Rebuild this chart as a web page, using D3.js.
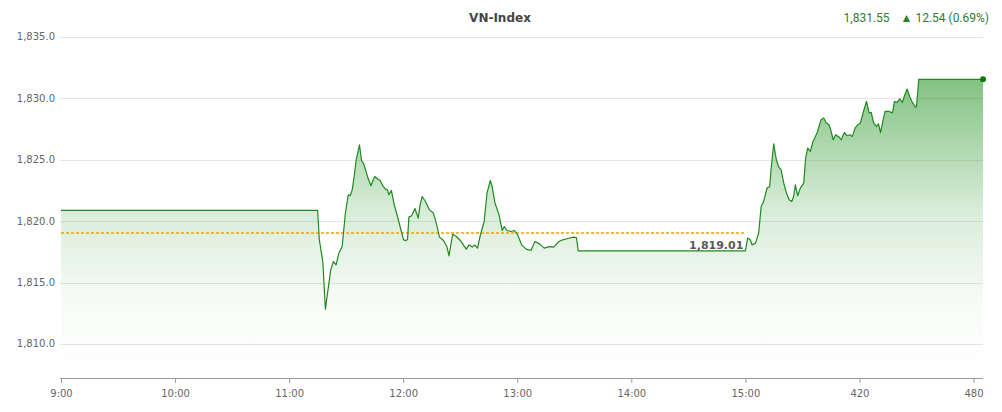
<!DOCTYPE html>
<html>
<head>
<meta charset="utf-8">
<script src="https://cdn.jsdelivr.net/npm/d3@7/dist/d3.min.js"></script>
<style>
  body { margin: 0; background: #fff; }
  svg { display: block; }
</style>
</head>
<body>
<svg id="chart"></svg>
<script>
// minutes since 9:00, and index value
const minutes = [0, 135, 135.9, 137.7, 139.1, 140.2, 141.9, 143.3, 144.7, 146.2, 147.9, 149.6, 151.1, 152.1, 153.2, 154.2, 155.3, 157, 158.1, 159.1,
  160.2, 161.2, 163, 164.1, 165.1, 166.5, 167.9, 169.3, 170.7, 171.7, 172.5, 173.8, 175.3, 177, 178.8, 180.2, 181.6, 182.3, 183, 184.4,
  186.2, 187.9, 188.9, 190, 191.7, 193.8, 195.9, 197.4, 199.1, 201.2, 203, 204.1, 206, 208, 210.2, 213.2, 214.6, 216.3, 217.7, 219.1,
  220.5, 222.6, 224.1, 225.8, 226.8, 228.3, 230.4, 232.1, 233.2, 234.6, 236.7, 238.4, 240.2, 242.3, 244.7, 247.2, 249.3, 251.7, 254.2, 256.7,
  259.1, 261.9, 264, 266.5, 269.6, 271.1, 272.1, 360, 361.2, 362.6, 363.5, 365.3, 367, 368.3, 369.6, 371.4, 372.8, 373.5, 374.9, 376.3,
  377.4, 378.8, 380.2, 381.6, 383, 384.4, 385.4, 386.3, 387.5, 388.9, 390.7, 391.7, 392.8, 394.2, 395.6, 397.7, 399.8, 401.2, 402.6, 404,
  405.1, 406.2, 407.5, 409.3, 410.4, 412.1, 413.5, 414.9, 416.3, 417.7, 419.1, 420.5, 421.9, 423.7, 425.1, 426.2, 427.5, 428.9, 430, 431.1,
  432.5, 433.5, 435.6, 437.4, 438.4, 439.8, 441.2, 442.6, 443.7, 445.1, 446.5, 447.9, 449.3, 450, 451.2, 485];
const values = [1820.87, 1820.87, 1818.48, 1816.71, 1812.83, 1814.14, 1816.03, 1816.71, 1816.44, 1817.40, 1817.93, 1820.66, 1822.15, 1822.07, 1822.55, 1823.64, 1825.00, 1826.22, 1824.94, 1824.73,
  1824.19, 1823.64, 1822.88, 1823.31, 1823.64, 1823.43, 1823.31, 1822.88, 1822.61, 1822.55, 1822.15, 1822.50, 1821.33, 1820.38, 1819.30, 1818.48, 1818.42, 1818.54, 1820.33, 1820.44,
  1821.03, 1820.25, 1821.33, 1822.01, 1821.60, 1820.92, 1820.66, 1819.84, 1818.70, 1818.42, 1817.93, 1817.18, 1818.93, 1818.75, 1818.40, 1817.72, 1818.07, 1817.89, 1818.05, 1817.80,
  1818.81, 1819.97, 1822.29, 1823.31, 1822.82, 1821.47, 1820.52, 1819.24, 1819.56, 1819.24, 1819.16, 1819.24, 1818.89, 1818.07, 1817.72, 1817.61, 1818.34, 1818.15, 1817.80, 1817.93,
  1817.89, 1818.34, 1818.48, 1818.59, 1818.70, 1818.67, 1817.58, 1817.58, 1818.62, 1818.48, 1818.07, 1818.21, 1819.03, 1821.19, 1821.60, 1822.69, 1822.82, 1824.19, 1826.30, 1825.00,
  1824.45, 1824.19, 1823.10, 1822.29, 1821.74, 1821.60, 1822.01, 1822.96, 1822.07, 1822.69, 1823.10, 1825.14, 1825.95, 1825.68, 1826.49, 1827.18, 1828.26, 1828.40, 1827.99, 1827.85,
  1827.31, 1826.63, 1827.04, 1826.85, 1826.63, 1827.22, 1826.96, 1827.04, 1826.90, 1827.58, 1827.85, 1827.99, 1828.81, 1829.75, 1828.81, 1828.86, 1827.99, 1827.71, 1827.93, 1827.22,
  1828.26, 1828.94, 1828.94, 1828.81, 1829.75, 1829.67, 1829.95, 1829.67, 1830.22, 1830.76, 1830.11, 1829.67, 1829.30, 1829.30, 1831.55, 1831.55];

const refValue = 1819.01;
const refEnd = 360;
const xTicks = [0, 60, 120, 180, 240, 300, 360, 420, 480];
const xTickLabels = ["9:00", "10:00", "11:00", "12:00", "13:00", "14:00", "15:00", "420", "480"];
const yTicks = [1810, 1815, 1820, 1825, 1830, 1835];
const title = "VN-Index";
const lastText = "1,831.55";
const changeText = "\u25B2 12.54 (0.69%)";

const W = 1002, H = 412;
const data = minutes.map((m, i) => ({ t: m, v: values[i] }));

const x = d3.scaleLinear().domain([0, 485]).range([61, 983]);
const y = d3.scaleLinear().domain([1807.2, 1836.4]).range([378.3, 19.8]);

const svg = d3.select("#chart").attr("width", W).attr("height", H);

const defs = svg.append("defs");
const grad = defs.append("linearGradient")
    .attr("id", "fillGrad")
    .attr("gradientUnits", "userSpaceOnUse")
    .attr("x1", 0).attr("x2", 0)
    .attr("y1", y(d3.max(values))).attr("y2", y(1807.2));
grad.append("stop").attr("offset", 0).attr("stop-color", "#108a10").attr("stop-opacity", 0.52);
grad.append("stop").attr("offset", 0.44).attr("stop-color", "#108a10").attr("stop-opacity", 0.16);
grad.append("stop").attr("offset", 0.75).attr("stop-color", "#108a10").attr("stop-opacity", 0.03);
grad.append("stop").attr("offset", 1).attr("stop-color", "#108a10").attr("stop-opacity", 0);

// grid
svg.append("g").selectAll("line")
    .data(yTicks)
    .enter()
    .append("line")
    .attr("x1", 60).attr("x2", 983)
    .attr("y1", d => Math.round(y(d)) + 0.5)
    .attr("y2", d => Math.round(y(d)) + 0.5)
    .attr("stroke", "#e6e6e6")
    .attr("stroke-width", 1);

// y labels
svg.append("g").selectAll("text")
    .data(yTicks)
    .enter()
    .append("text")
    .text(d => d3.format(",.1f")(d))
    .attr("x", 55)
    .attr("y", d => y(d))
    .attr("dy", "0.35em")
    .attr("text-anchor", "end")
    .attr("font-family", "DejaVu Sans, sans-serif")
    .attr("font-size", "10px")
    .attr("fill", "#666");

// area + line
const area = d3.area()
    .x(d => x(d.t))
    .y0(y(1807.2))
    .y1(d => y(d.v))
    .curve(d3.curveLinear);
const line = d3.line()
    .x(d => x(d.t))
    .y(d => y(d.v))
    .curve(d3.curveLinear);

svg.append("path")
    .attr("d", area(data))
    .attr("fill", "url(#fillGrad)");

// reference line
const refY = Math.round(y(refValue));
svg.append("line")
    .attr("x1", x(0)).attr("x2", x(refEnd))
    .attr("y1", refY).attr("y2", refY)
    .attr("stroke", "#f2a200")
    .attr("stroke-width", 1.3)
    .attr("stroke-dasharray", "3,2");

svg.append("path")
    .attr("d", line(data))
    .attr("fill", "none")
    .attr("stroke", "#1f8a1f")
    .attr("stroke-width", 1.2)
    .attr("stroke-linejoin", "round");

svg.append("text")
    .text(d3.format(",.2f")(refValue))
    .attr("x", x(refEnd) - 2)
    .attr("y", y(refValue) + 16)
    .attr("text-anchor", "end")
    .attr("font-family", "DejaVu Sans, sans-serif")
    .attr("font-size", "11px")
    .attr("font-weight", "bold")
    .attr("fill", "#5a5a5a");

const last = data[data.length - 1];
svg.append("circle")
    .attr("cx", x(last.t)).attr("cy", y(last.v))
    .attr("r", 3)
    .attr("fill", "#0b7a0b");

// x axis
const xAxis = d3.axisBottom(x)
    .tickValues(xTicks)
    .tickFormat((d, i) => xTickLabels[i])
    .tickSize(5)
    .tickSizeOuter(0);
const gx = svg.append("g")
    .attr("transform", "translate(0,378)")
    .call(xAxis);
gx.select(".domain").attr("stroke", "#999").attr("d", "M60,0.5H983");
gx.selectAll(".tick line").attr("stroke", "#999");
gx.selectAll(".tick text")
    .attr("font-family", "DejaVu Sans, sans-serif")
    .attr("font-size", "10px")
    .attr("fill", "#666")
    .attr("dy", "1.05em");

// header
svg.append("text")
    .text(title)
    .attr("x", 500).attr("y", 22)
    .attr("text-anchor", "middle")
    .attr("font-family", "DejaVu Sans, sans-serif")
    .attr("font-size", "12px")
    .attr("font-weight", "bold")
    .attr("fill", "#444");

svg.append("text")
    .attr("x", 989).attr("y", 22)
    .attr("text-anchor", "end")
    .attr("font-family", "Roboto, sans-serif")
    .attr("font-size", "12px")
    .attr("fill", "#2e7d32")
    .call(t => {
        t.append("tspan").text(lastText);
        t.append("tspan").attr("dx", 11).text(changeText);
    });
</script>
</body>
</html>
